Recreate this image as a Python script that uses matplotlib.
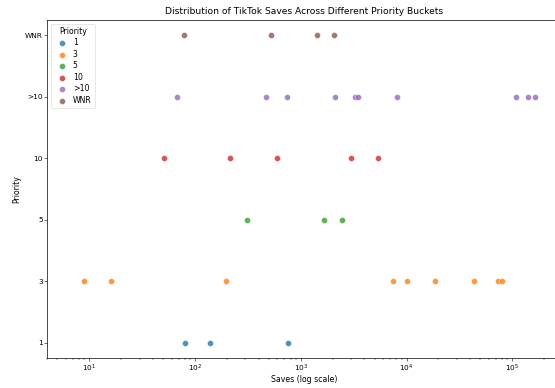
import matplotlib
matplotlib.use('Agg')
import matplotlib.pyplot as plt

plt.rcParams.update({
    'font.family': ['DejaVu Sans'],
    'font.size': 5.6,
    'axes.linewidth': 0.5,
})

# ---------- data ----------
priorities = ['1', '3', '5', '10', '>10', 'WNR']
saves_p1 = [80, 139, 750]
saves_p3 = [9, 16, 198, 7400, 10000, 18400, 43800, 73600, 80700]
saves_p5 = [308, 1670, 2460]
saves_p10 = [51, 214, 593, 3010, 5420]
saves_gt10 = [68, 473, 741, 2100, 3240, 3510, 8090, 108000, 142000, 164000]
saves_wnr = [79, 527, 1420, 2050]

series = [saves_p1, saves_p3, saves_p5, saves_p10, saves_gt10, saves_wnr]
colors = ['#1f77b4', '#ff7f0e', '#2ca02c', '#d62728', '#9467bd', '#8c564b']

# ---------- figure ----------
fig = plt.figure(figsize=(5.55, 3.88), dpi=100)
# axes run past the right edge of the canvas, as in the reference
ax = fig.add_axes([0.085, 0.077, 0.925, 0.872])

for i, (name, vals) in enumerate(zip(priorities, series)):
    ax.scatter(vals, [i] * len(vals), s=19, color=colors[i], alpha=0.8,
               edgecolors='white', linewidths=0.4, label=name, zorder=3)

ax.set_xscale('log')
ax.set_xlim(4.0, 2.86e5)
ax.set_ylim(-0.25, len(priorities) - 0.75)
ax.set_yticks(range(len(priorities)))
ax.set_yticklabels(priorities)

ax.tick_params(which='major', length=2.0, width=0.4, pad=1.2, labelsize=5.3)
ax.tick_params(which='minor', length=1.1, width=0.3)

ax.set_title('Distribution of TikTok Saves Across Different Priority Buckets',
             fontsize=6.6, pad=4.5)
ax.set_xlabel('Saves (log scale)', labelpad=1.0)
ax.set_ylabel('Priority', labelpad=2.5)

leg = ax.legend(title='Priority', loc='upper left', fontsize=5.6,
                title_fontsize=5.6, markerscale=1.0, borderpad=0.4,
                labelspacing=0.32, handletextpad=0.4, framealpha=0.8)
leg.get_frame().set_linewidth(0.4)

fig.savefig('out.png', dpi=100, facecolor='white')
plt.close()
